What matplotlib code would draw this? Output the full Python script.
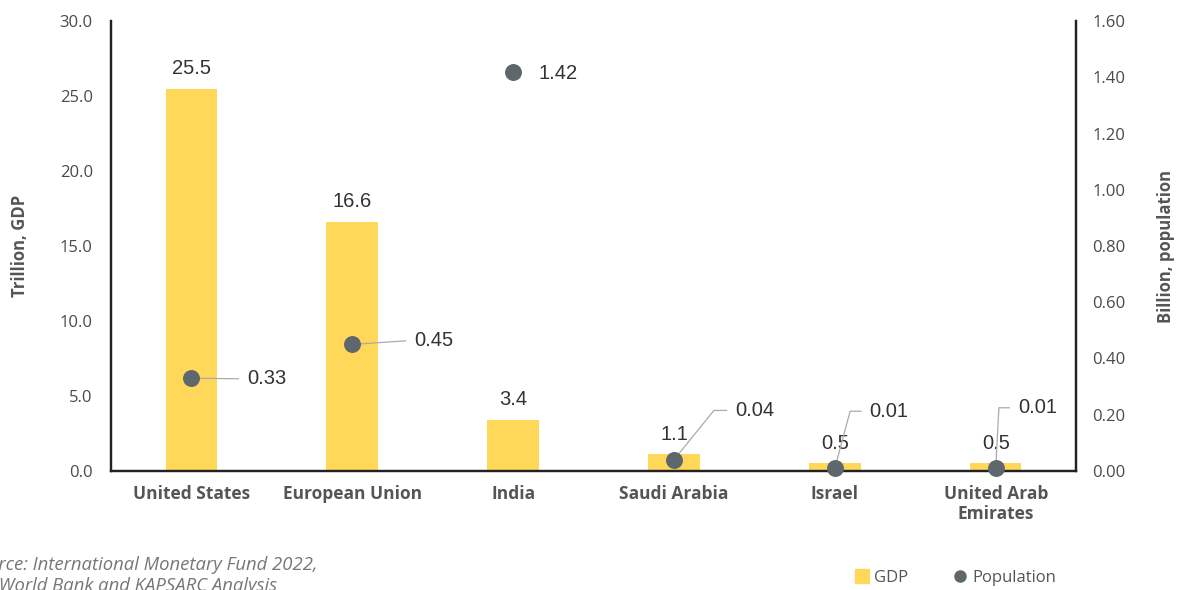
import matplotlib
matplotlib.use("Agg")
import matplotlib.pyplot as plt
from matplotlib.lines import Line2D

# Chart values
countries = ["United States", "European Union", "India", "Saudi Arabia", "Israel",
             "United Arab\nEmirates"]
gdp_trillion = [25.5, 16.6, 3.4, 1.1, 0.5, 0.5]
population_billion = [0.33, 0.45, 1.42, 0.04, 0.01, 0.01]
gdp_ticks = [0, 5, 10, 15, 20, 25, 30]
pop_ticks = [0.0, 0.2, 0.4, 0.6, 0.8, 1.0, 1.2, 1.4, 1.6]

BAR_YELLOW = "#FFD859"
DOT_GREY = "#5E686C"
TEXT_GREY = "#555555"
TICK_GREY = "#4A4A4A"
LABEL_DARK = "#333333"
LEADER = "#AAAAAA"

# label offsets (points) and leader style for the population labels
pop_label_offsets = [(40, -0.5), (44.6, 3), (18, -1.5), (44, 35.5), (25, 41), (16, 43.5)]
pop_leader_styles = ["arc3", "arc3", None,
                     "angle,angleA=0,angleB=51,rad=0",
                     "angle,angleA=0,angleB=75,rad=0",
                     "angle,angleA=0,angleB=87,rad=0"]

plt.rcParams["font.family"] = ["Open Sans", "DejaVu Sans"]

fig = plt.figure(figsize=(11.8, 5.9), dpi=100)
ax = fig.add_axes([0.094, 0.2017, 0.818, 0.7627])
ax2 = ax.twinx()

x = list(range(len(countries)))
ax.bar(x, gdp_trillion, width=0.32, color=BAR_YELLOW, zorder=2)
for xi, v in zip(x, gdp_trillion):
    ax.annotate(f"{v:.1f}", (xi, v), xytext=(0, 14.5), textcoords="offset points",
                ha="center", va="center", fontsize=14.5, color=LABEL_DARK,
                family="Liberation Sans")

ax.set_xlim(-0.5, len(countries) - 0.5)
ax.set_ylim(0, 30)
ax.set_yticks(gdp_ticks)
ax.set_yticklabels([f"{t:.1f}" for t in gdp_ticks])
ax.set_xticks(x)
ax.set_xticklabels(countries, fontweight="bold", fontsize=12.5, color=TEXT_GREY,
                   linespacing=1.15)
ax.tick_params(axis="y", length=0, pad=13, labelsize=12, labelcolor=TICK_GREY)
ax.tick_params(axis="x", length=0, pad=10)
ax.set_ylabel("Trillion, GDP", fontweight="bold", fontsize=12, color=TEXT_GREY, labelpad=22)

ax2.set_ylim(0, 1.6)
ax2.set_yticks(pop_ticks)
ax2.set_yticklabels([f"{t:.2f}" for t in pop_ticks])
ax2.tick_params(axis="y", length=0, pad=11.5, labelsize=12, labelcolor=TICK_GREY)
ax2.set_ylabel("Billion, population", fontweight="bold", fontsize=12, color=TEXT_GREY,
               labelpad=23)

for a in (ax, ax2):
    a.spines["top"].set_visible(False)
    for side in ("left", "right", "bottom"):
        a.spines[side].set_color("#222222")
        a.spines[side].set_linewidth(1.6)

ax2.scatter(x, population_billion, s=125, color=DOT_GREY, zorder=4, clip_on=False)
for xi, v, off, style in zip(x, population_billion, pop_label_offsets, pop_leader_styles):
    props = None
    if style is not None:
        props = dict(arrowstyle="-", color=LEADER, lw=0.9, connectionstyle=style,
                     shrinkA=4, shrinkB=0, relpos=(0, 0.5))
    ann = ax2.annotate(f"{v:.2f}", (xi, v), xytext=off, textcoords="offset points",
                       ha="left", va="center", fontsize=14.5, color=LABEL_DARK,
                       family="Liberation Sans", arrowprops=props)
    ann.set_zorder(3)

# source note, partially cut off at the left edge as in the original
fig.text(-0.027, -0.008, "Source: International Monetary Fund 2022,\nthe World Bank and KAPSARC Analysis",
         fontsize=13.3, style="italic", color="#777777", ha="left", va="bottom", linespacing=1.2)

handles = [Line2D([], [], marker="s", ls="", markersize=10, color=BAR_YELLOW),
           Line2D([], [], marker="o", ls="", markersize=8, color=DOT_GREY)]
fig.legend(handles, ["GDP", "Population"], loc="center right", ncol=2, frameon=False,
           bbox_to_anchor=(0.901, 0.021), fontsize=12, labelcolor=TEXT_GREY,
           handletextpad=0.35, columnspacing=2.7, handlelength=0.8, borderaxespad=0)

fig.savefig("out.png", dpi=100)
